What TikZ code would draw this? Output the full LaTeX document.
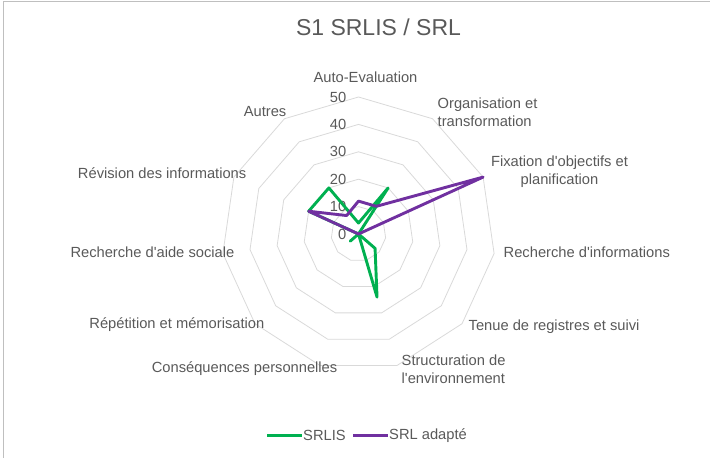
\documentclass[tikz,border=0pt]{standalone}
\usepackage{fontspec}
\setmainfont{Liberation Sans}
\definecolor{txtgrey}{HTML}{595959}
\definecolor{gridgrey}{HTML}{D9D9D9}
\definecolor{srlisgreen}{HTML}{00B050}
\definecolor{srlpurple}{HTML}{7030A0}

\tikzset{
lbl/.style={inner sep=0pt, text=txtgrey, font=\fontsize{14.7}{18}\selectfont},
ring/.style={draw=gridgrey, line width=0.8pt},
serie/.style={line width=2.9pt, line join=round},
}
\newcommand{\apos}{\textquotesingle}

\begin{document}
\begin{tikzpicture}[x=1pt, y=1pt]
% 1pt = 1px of the 710x458 picture
\useasboundingbox (0, 0) rectangle (710, 458);
\draw[draw=black!25, line width=1pt] (3.5, -5) -- (3.5, 456) -- (715, 456);
\node[lbl, font=\fontsize{23}{27}\selectfont] (title) at (378.5, 431) {S1 SRLIS / SRL};
\def\vs{2.74}
\begin{scope}[shift={(358.5, 224)}]
	% rings 10 .. 50
	\foreach \r in {10,20,...,50}
		\draw[ring] (90:\r*\vs) \foreach \k in {1,...,10} {-- ({90-\k*360/11}:\r*\vs)} -- cycle;
	% scale
	\foreach \t in {0,10,...,50}
		\node[lbl, anchor=east] (tick\t) at (-12, \t*\vs) {\t};
	% axis names
	\node[lbl] (autoeval) at (7, 157) {Auto-Evaluation};
	\node[lbl, anchor=west, align=left] (organis) at (79, 122) {Organisation et\\transformation};
	\node[lbl, align=center] (fixation) at (201, 62) {Fixation d\apos objectifs et\\planification};
	\node[lbl, anchor=west] (rechinfo) at (145, -18) {Recherche d\apos informations};
	\node[lbl, anchor=west] (tenue) at (110, -93) {Tenue de registres et suivi};
	\node[lbl, anchor=west, align=left] (structur) at (43, -135.5) {Structuration de\\l\apos environnement};
	\node[lbl, anchor=east] (consequ) at (-21, -135) {Conséquences personnelles};
	\node[lbl, anchor=east] (repet) at (-94, -91) {Répétition et mémorisation};
	\node[lbl, anchor=east] (aide) at (-124, -18) {Recherche d\apos aide sociale};
	\node[lbl, anchor=east] (revision) at (-112, 61) {Révision des informations};
	\node[lbl, anchor=east] (autres) at (-72, 122) {Autres};
	% series
	\foreach \v [count=\i from 0] in {4,20,0,0,8,24,0,4,0,20,20}
		\coordinate (g\i) at ({90-\i*360/11}:{\v*\vs});
	\foreach \v [count=\i from 0] in {12,12,50,0,0,0,0,0,0,20,8}
		\coordinate (p\i) at ({90-\i*360/11}:{\v*\vs});
	\draw[serie, srlisgreen] (g0) -- (g1) -- (g2) -- (g3) -- (g4) -- (g5) -- (g6) -- (g7) -- (g8) -- (g9) -- (g10) -- cycle;
	\draw[serie, srlpurple] (p0) -- (p1) -- (p2) -- (p3) -- (p4) -- (p5) -- (p6) -- (p7) -- (p8) -- (p9) -- (p10) -- cycle;
\end{scope}
% legend
\coordinate (lg1) at (267, 22.5);
\coordinate (lg2) at (302, 22.5);
\draw[srlisgreen, line width=2.9pt] (lg1) -- (lg2);
\node[lbl, anchor=west] (srlis) at (303, 22.5) {SRLIS};
\coordinate (lp1) at (353, 22.5);
\coordinate (lp2) at (388, 22.5);
\draw[srlpurple, line width=2.9pt] (lp1) -- (lp2);
\node[lbl, anchor=west] (srl) at (389, 22.5) {SRL adapté};
\end{tikzpicture}
\end{document}
